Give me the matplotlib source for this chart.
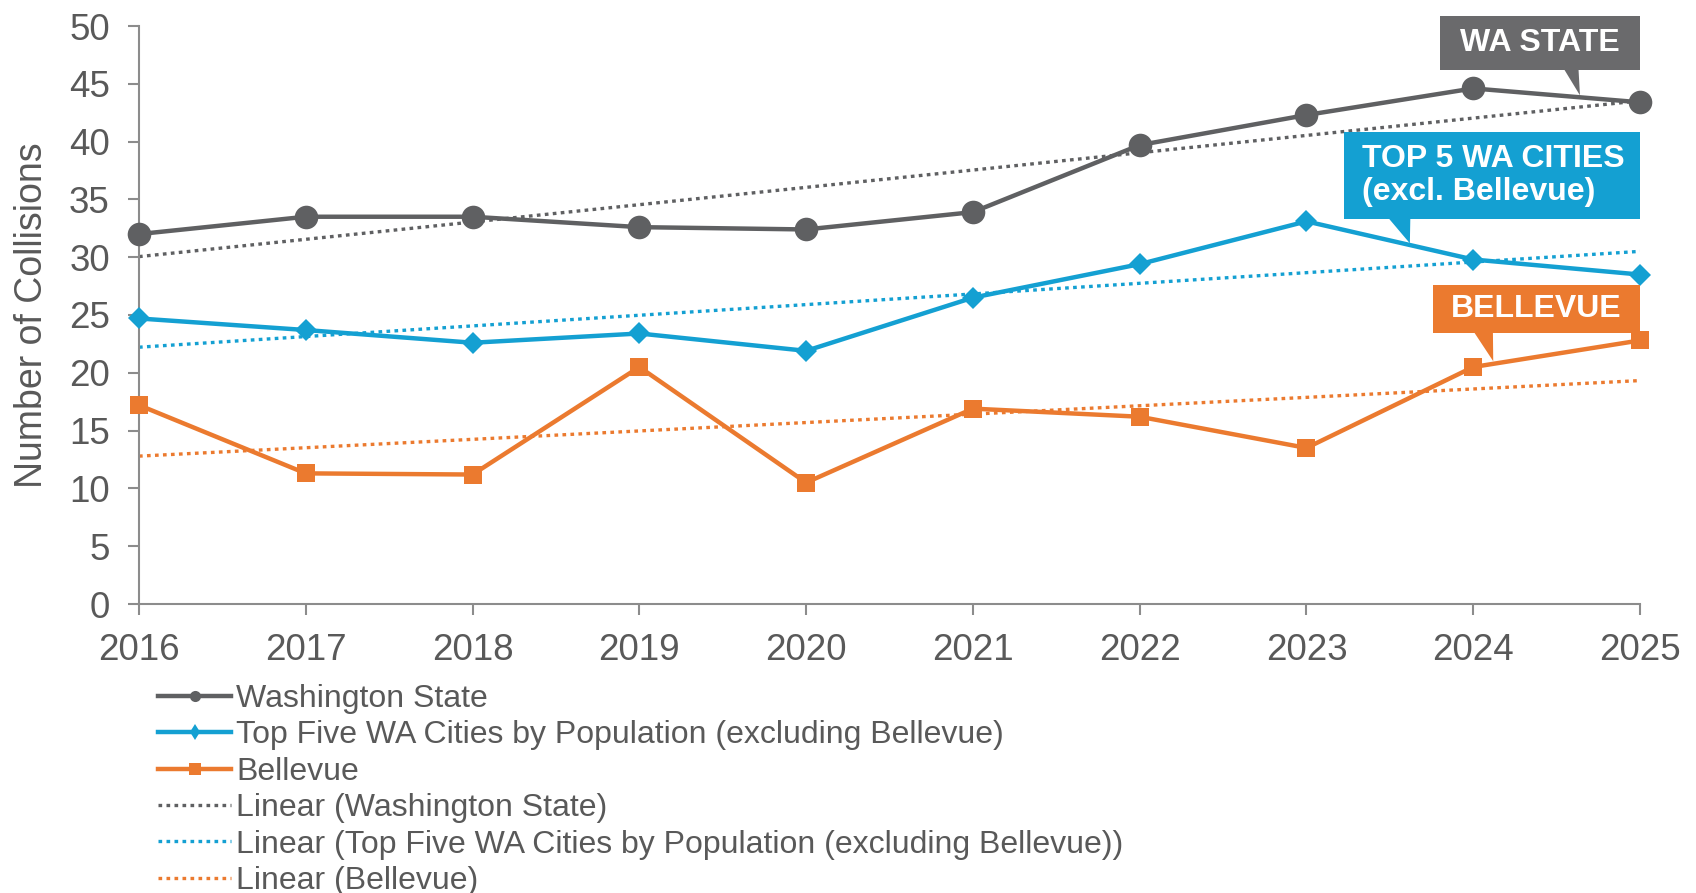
import numpy as np
import matplotlib.pyplot as plt
from matplotlib.lines import Line2D
from matplotlib.patches import Rectangle, Polygon

years = [2016, 2017, 2018, 2019, 2020, 2021, 2022, 2023, 2024, 2025]
wa_state = [32.0, 33.5, 33.5, 32.6, 32.4, 33.9, 39.7, 42.3, 44.6, 43.4]
top_five = [24.7, 23.7, 22.6, 23.4, 21.9, 26.5, 29.4, 33.1, 29.8, 28.5]
bellevue = [17.2, 11.3, 11.2, 20.5, 10.5, 16.9, 16.2, 13.5, 20.5, 22.8]

series_labels = ["Washington State",
                 "Top Five WA Cities by Population (excluding Bellevue)",
                 "Bellevue"]

GRAY = '#5f6062'
BLUE = '#14a0d2'
ORANGE = '#eb7a2f'
TEXT = '#595959'
AXIS = '#8c8c8c'

plt.rcParams['font.family'] = ['Liberation Sans', 'DejaVu Sans']

fig = plt.figure(figsize=(16.96, 8.93), dpi=100)
ax = fig.add_axes([139 / 1696, 1 - 604 / 893, 1501 / 1696, 578 / 893])

styles = [
	(wa_state, GRAY, 'o', 17),
	(top_five, BLUE, 'D', 11),
	(bellevue, ORANGE, 's', 13),
]

x = np.array(years, dtype=float)
for values, color, marker, msize in styles:
	# linear trend, like Excel's trendline
	slope, icpt = np.polyfit(x, values, 1)
	ax.plot(x, slope * x + icpt, color=color, lw=2.4, linestyle=(0, (1.1, 1.3)), zorder=2)
for values, color, marker, msize in styles:
	ax.plot(x, values, color=color, lw=3.2, marker=marker, markersize=msize,
			markeredgewidth=0, clip_on=False, zorder=4)

ax.set_xlim(2016, 2025)
ax.set_ylim(0, 50)
ax.set_xticks(years)
ax.set_yticks(range(0, 51, 5))
ax.tick_params(axis='both', colors=AXIS, labelcolor=TEXT, labelsize=26.5, length=8, width=1.5)
ax.tick_params(axis='x', pad=13)
ax.tick_params(axis='y', pad=13)
for side in ['top', 'right']:
	ax.spines[side].set_visible(False)
for side in ['left', 'bottom']:
	ax.spines[side].set_color(AXIS)
	ax.spines[side].set_linewidth(1.5)
ax.set_ylabel("Number of Collisions", fontsize=27, color=TEXT, labelpad=14)

# callout boxes
def callout(text, box, base, tip, color, ha='center', tx=None):
	x0, y0, x1, y1 = box
	ax.add_patch(Rectangle((x0, y0), x1 - x0, y1 - y0, transform=ax.transAxes,
						   fc=color, ec='none', clip_on=False, zorder=6))
	tip_ax = ax.transAxes.inverted().transform(ax.transData.transform(tip))
	ax.add_patch(Polygon([(base[0], y0 + 0.003), (base[1], y0 + 0.003), tuple(tip_ax)],
						 closed=True, transform=ax.transAxes, fc=color, ec='none',
						 clip_on=False, zorder=6))
	if tx is None:
		tx = (x0 + x1) / 2
	ax.text(tx, (y0 + y1) / 2, text, transform=ax.transAxes, ha=ha, va='center',
			multialignment='left', fontsize=23, fontweight='bold', color='white',
			linespacing=1.15, zorder=7)

callout("WA STATE", (0.867, 0.924, 1.0, 1.017), (0.949, 0.959), (2024.64, 44.0), '#6a6a6c')
callout("TOP 5 WA CITIES\n(excl. Bellevue)", (0.803, 0.666, 1.0, 0.817), (0.832, 0.847),
		(2023.62, 31.2), BLUE, ha='left', tx=0.815)
callout("BELLEVUE", (0.862, 0.469, 1.0, 0.552), (0.889, 0.902), (2024.12, 21.0), ORANGE)

# legend
handles = [
	Line2D([], [], color=GRAY, lw=3.2, marker='o', markersize=8, markeredgewidth=0),
	Line2D([], [], color=BLUE, lw=3.2, marker='d', markersize=8, markeredgewidth=0),
	Line2D([], [], color=ORANGE, lw=3.2, marker='s', markersize=9, markeredgewidth=0),
	Line2D([], [], color=GRAY, lw=2.4, linestyle=(0, (1.1, 1.3))),
	Line2D([], [], color=BLUE, lw=2.4, linestyle=(0, (1.1, 1.3))),
	Line2D([], [], color=ORANGE, lw=2.4, linestyle=(0, (1.1, 1.3))),
]
labels = series_labels + ["Linear (" + s + ")" for s in series_labels]
leg = fig.legend(handles, labels, loc='upper left', bbox_to_anchor=(158 / 1696, 1 - 684 / 893),
				 frameon=False, fontsize=23, labelspacing=0.2, handlelength=2.3,
				 handletextpad=0.15, borderpad=0, borderaxespad=0)
for t in leg.get_texts():
	t.set_color(TEXT)

fig.savefig("out.png", dpi=100)
